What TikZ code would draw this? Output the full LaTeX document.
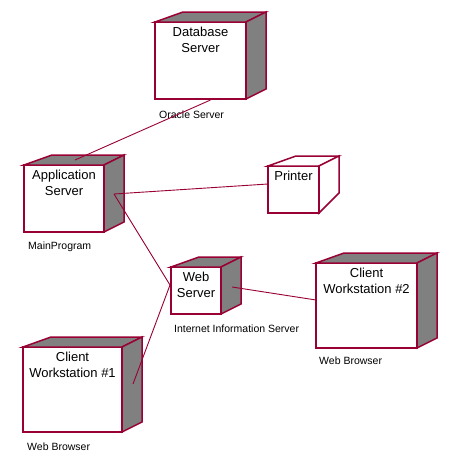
\documentclass[tikz,border=0pt]{standalone}
\usepackage{fontspec}
\setmainfont{Liberation Sans}
\usetikzlibrary{calc}
\definecolor{umlred}{RGB}{153,0,51}
\definecolor{umlgray}{RGB}{128,128,128}

\begin{document}
\begin{tikzpicture}[x=1pt,y=-1pt,
  box/.style={draw=umlred,fill=white,line width=1.5pt,inner sep=0pt,outer sep=0pt,anchor=north west},
  boxtext/.style={anchor=north,align=center,font=\fontsize{13}{16}\selectfont,inner sep=0pt},
  face/.style={draw=umlred,fill=umlgray,line width=1.5pt},
  blankface/.style={draw=umlred,fill=white,line width=1.5pt},
  tag/.style={anchor=north west,font=\fontsize{10.5}{12}\selectfont,inner sep=0pt},
  link/.style={draw=umlred,line width=0.9pt}]
\useasboundingbox (0,0) rectangle (457,463);
% front faces
\node[box,minimum width=91pt,minimum height=77pt] (db) at (155,22) {};
\node[box,minimum width=80pt,minimum height=67pt] (app) at (24,165) {};
\node[box,minimum width=51pt,minimum height=47pt] (prn) at (268,166) {};
\node[box,minimum width=50pt,minimum height=47pt] (web) at (171,267) {};
\node[box,minimum width=101pt,minimum height=85pt] (cwb) at (316,263) {};
\node[box,minimum width=99pt,minimum height=85pt] (cwa) at (23,347) {};
% depth
\foreach \n in {db,app,web,cwb,cwa}{
  \draw[face] (\n.north west) -- ++(28,-10) -- ([shift={(20,-10)}]\n.north east) -- (\n.north east) -- cycle;
  \draw[face] (\n.north east) -- ([shift={(20,-10)}]\n.north east) -- ([shift={(20,-10)}]\n.south east) -- (\n.south east) -- cycle;
}
\draw[blankface] (prn.north west) -- ++(28,-10) -- ([shift={(20,-10)}]prn.north east) -- (prn.north east) -- cycle;
\draw[blankface] (prn.north east) -- ([shift={(20,-10)}]prn.north east) -- ([shift={(20,-20)}]prn.south east) -- (prn.south east) -- cycle;
% names
\node[boxtext] at ([yshift=-4.5pt]db.north) {Database\\Server};
\node[boxtext] at ([yshift=-4.5pt]app.north) {Application\\Server};
\node[boxtext] at ([yshift=-4.5pt]prn.north) {Printer};
\node[boxtext] at ([yshift=-4.5pt]web.north) {Web\\Server};
\node[boxtext] at ([yshift=-4.5pt]cwb.north) {Client\\Workstation \#2};
\node[boxtext] at ([yshift=-4.5pt]cwa.north) {Client\\Workstation \#1};
% components
\node[tag] (dbtag) at ([shift={(4,12)}]db.south west) {Oracle Server};
\node[tag] (apptag) at ([shift={(4,10)}]app.south west) {MainProgram};
\node[tag] (webtag) at ([shift={(3,11)}]web.south west) {Internet Information Server};
\node[tag] (cwbtag) at ([shift={(3,9)}]cwb.south west) {Web Browser};
\node[tag] (cwatag) at ([shift={(4,11)}]cwa.south west) {Web Browser};
% connections
\coordinate (db-a) at ([shift={(10,1)}]db.south);
\coordinate (app-a) at ([shift={(11,-5)}]app.north);
\coordinate (app-b) at ([shift={(10,-4.5)}]app.east);
\coordinate (prn-a) at ([shift={(0,-5.5)}]prn.west);
\coordinate (web-a) at ([shift={(-1,-5.5)}]web.west);
\coordinate (web-b) at ([shift={(11,-3.5)}]web.east);
\coordinate (cwb-a) at ([shift={(0,-5.5)}]cwb.west);
\coordinate (cwa-a) at ([shift={(11,-5.5)}]cwa.east);
\draw[link] (db-a) -- (app-a);
\draw[link] (app-b) -- (prn-a);
\draw[link] (app-b) -- (web-a);
\draw[link] (web-a) -- (cwa-a);
\draw[link] (web-b) -- (cwb-a);
\end{tikzpicture}
\end{document}
